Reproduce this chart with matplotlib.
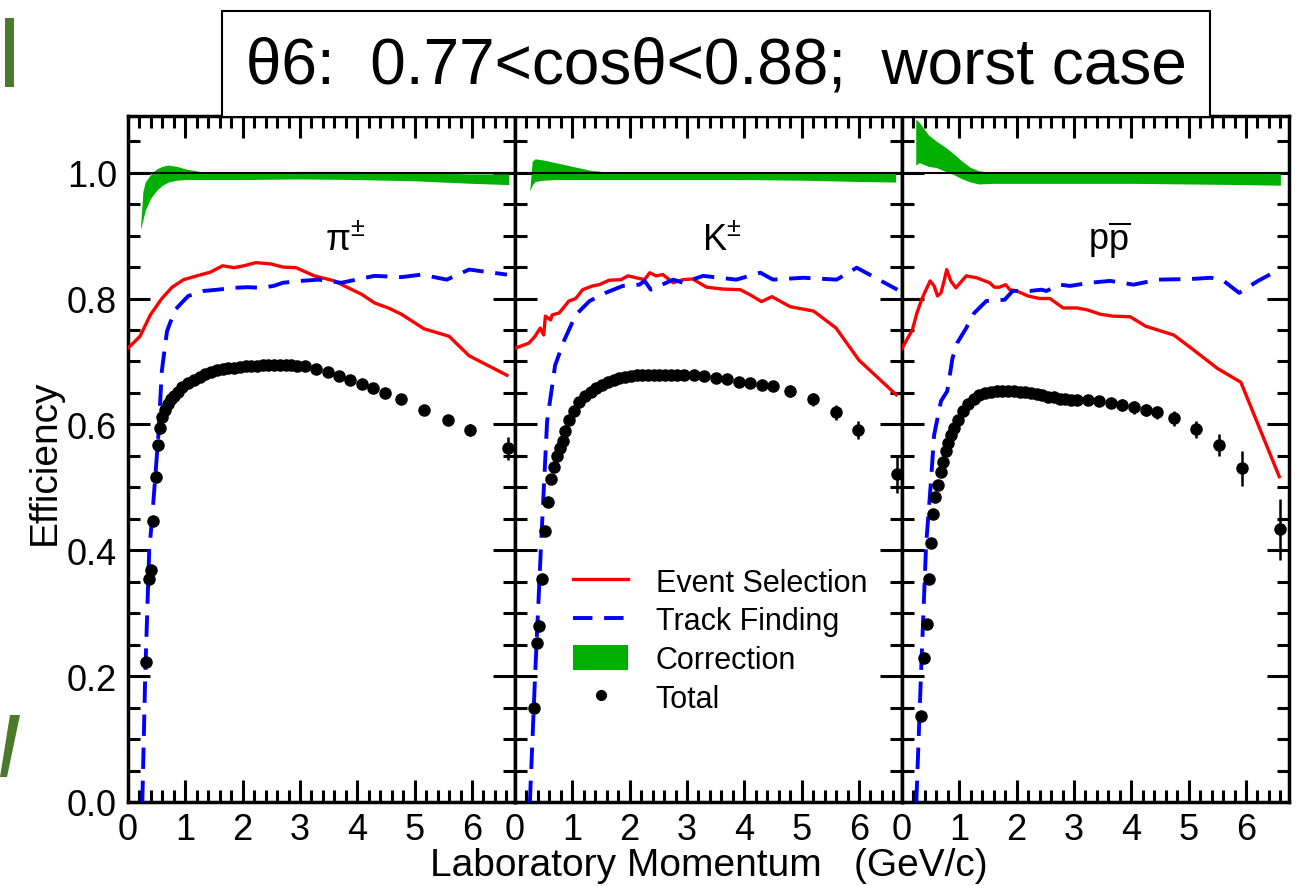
import matplotlib
matplotlib.use("Agg")
import matplotlib.pyplot as plt
from matplotlib.lines import Line2D
from matplotlib.patches import Patch, Rectangle, Polygon
from matplotlib.ticker import MultipleLocator

plt.rcParams['font.family'] = ['Liberation Sans', 'DejaVu Sans']
plt.rcParams['mathtext.fontset'] = 'custom'
plt.rcParams['mathtext.rm'] = 'Liberation Sans'
plt.rcParams['mathtext.it'] = 'Liberation Sans:italic'

# ---- data: pi
pi_sel_x = [0.0, 0.21, 0.39, 0.59, 0.77, 0.97, 1.2, 1.44, 1.65, 1.85, 2.02, 2.23, 2.49, 2.7, 2.93,
            3.25, 3.6, 3.84, 4.07, 4.3, 4.54, 4.77, 5.16, 5.6, 5.95, 6.61]
pi_sel_y = [0.721, 0.740, 0.774, 0.800, 0.818, 0.830, 0.836, 0.842, 0.852, 0.849, 0.852, 0.857, 0.855,
            0.850, 0.849, 0.836, 0.828, 0.817, 0.807, 0.793, 0.785, 0.775, 0.752, 0.740, 0.709, 0.678]
pi_trk_x = [0.25, 0.30, 0.37, 0.42, 0.47, 0.53, 0.59, 0.68, 0.82, 1.05, 1.32, 1.56, 1.85, 2.09, 2.32,
            2.54, 2.7, 3.02, 3.32, 3.72, 4.3, 4.77, 5.12, 5.56, 5.95, 6.61]
pi_trk_y = [0.0, 0.20, 0.40, 0.45, 0.51, 0.583, 0.685, 0.748, 0.782, 0.804, 0.812, 0.814, 0.817, 0.818,
            0.817, 0.820, 0.825, 0.828, 0.830, 0.825, 0.836, 0.834, 0.838, 0.830, 0.846, 0.838]
pi_cor_x = [0.22, 0.26, 0.30, 0.40, 0.50, 0.60, 0.70, 0.85, 1.0, 1.3, 1.6, 2.0, 3.0, 4.0, 5.0, 5.5, 6.0, 6.64]
pi_cor_hi = [0.915, 0.97, 0.985, 0.998, 1.006, 1.010, 1.012, 1.010, 1.006, 1.001, 1.000, 1.000, 1.002,
             1.002, 1.000, 0.999, 0.998, 0.998]
pi_cor_lo = [0.910, 0.925, 0.940, 0.960, 0.972, 0.980, 0.985, 0.988, 0.989, 0.989, 0.989, 0.989, 0.990,
             0.989, 0.987, 0.985, 0.983, 0.981]
pi_tot_x = [0.32, 0.36, 0.40, 0.44, 0.48, 0.52, 0.56, 0.60, 0.65, 0.70, 0.75, 0.80, 0.87, 0.95, 1.05,
            1.15, 1.25, 1.35, 1.45, 1.55, 1.65, 1.75, 1.85, 1.95, 2.05, 2.15, 2.25, 2.35, 2.45, 2.55,
            2.65, 2.75, 2.85, 2.95, 3.09, 3.28, 3.49, 3.68, 3.88, 4.09, 4.28, 4.48, 4.77, 5.16, 5.58,
            5.97, 6.63]
pi_tot_y = [0.222, 0.354, 0.368, 0.446, 0.516, 0.568, 0.595, 0.611, 0.623, 0.632, 0.640, 0.645, 0.651,
            0.659, 0.665, 0.670, 0.676, 0.680, 0.684, 0.686, 0.688, 0.689, 0.690, 0.691, 0.692, 0.693,
            0.693, 0.694, 0.694, 0.694, 0.694, 0.694, 0.694, 0.693, 0.692, 0.688, 0.683, 0.677, 0.670,
            0.664, 0.658, 0.650, 0.640, 0.623, 0.607, 0.591, 0.562]
pi_tot_e = [0.003] * 41 + [0.004, 0.005, 0.006, 0.008, 0.010, 0.018]

# ---- data: K
k_sel_x = [0.0, 0.24, 0.35, 0.44, 0.5, 0.53, 0.62, 0.65, 0.77, 0.94, 1.06, 1.18, 1.35, 1.47, 1.64, 1.85,
           1.97, 2.11, 2.26, 2.35, 2.46, 2.58, 2.76, 2.93, 3.1, 3.34, 3.63, 3.93, 4.1, 4.3, 4.48, 4.8,
           5.21, 5.6, 6.0, 6.65]
k_sel_y = [0.721, 0.729, 0.740, 0.753, 0.742, 0.772, 0.766, 0.774, 0.777, 0.796, 0.800, 0.814, 0.820,
           0.822, 0.829, 0.830, 0.836, 0.833, 0.830, 0.841, 0.836, 0.838, 0.825, 0.830, 0.831, 0.818,
           0.815, 0.814, 0.806, 0.795, 0.803, 0.787, 0.780, 0.753, 0.702, 0.647]
k_trk_x = [0.26, 0.35, 0.45, 0.56, 0.70, 0.86, 1.06, 1.30, 1.58, 1.88, 2.17, 2.26, 2.37, 2.76, 2.93,
           3.28, 3.86, 4.28, 4.5, 5.03, 5.61, 5.96, 6.67]
k_trk_y = [0.0, 0.20, 0.40, 0.605, 0.694, 0.734, 0.774, 0.796, 0.809, 0.820, 0.822, 0.828, 0.814, 0.830,
           0.825, 0.836, 0.830, 0.841, 0.830, 0.833, 0.830, 0.849, 0.814]
k_cor_x = [0.26, 0.30, 0.35, 0.5, 0.7, 1.0, 1.3, 1.6, 2.0, 3.0, 4.0, 5.0, 6.0, 6.64]
k_cor_hi = [0.975, 1.018, 1.022, 1.020, 1.016, 1.010, 1.004, 1.001, 1.0, 1.0, 1.001, 1.0, 0.999, 0.999]
k_cor_lo = [0.971, 0.980, 0.986, 0.988, 0.989, 0.989, 0.989, 0.989, 0.989, 0.989, 0.989, 0.988, 0.986, 0.985]
k_tot_x = [0.33, 0.38, 0.42, 0.47, 0.53, 0.58, 0.63, 0.68, 0.73, 0.78, 0.83, 0.88, 0.95, 1.03, 1.12,
           1.22, 1.32, 1.42, 1.52, 1.62, 1.72, 1.82, 1.92, 2.02, 2.12, 2.22, 2.32, 2.42, 2.52, 2.62,
           2.72, 2.82, 2.95, 3.12, 3.30, 3.50, 3.70, 3.91, 4.10, 4.30, 4.50, 4.79, 5.19, 5.60, 5.98, 6.66]
k_tot_y = [0.150, 0.252, 0.280, 0.354, 0.430, 0.476, 0.513, 0.532, 0.549, 0.562, 0.573, 0.589, 0.607,
           0.621, 0.635, 0.645, 0.652, 0.658, 0.663, 0.667, 0.671, 0.674, 0.676, 0.677, 0.678, 0.678,
           0.679, 0.679, 0.679, 0.679, 0.679, 0.679, 0.679, 0.678, 0.677, 0.674, 0.672, 0.668, 0.666,
           0.663, 0.661, 0.653, 0.640, 0.619, 0.591, 0.521]
k_tot_e = [0.003] * 34 + [0.005, 0.005, 0.006, 0.006, 0.007, 0.007, 0.008, 0.010, 0.010, 0.012, 0.015, 0.030]

# ---- data: p pbar
p_sel_x = [0.0, 0.18, 0.26, 0.35, 0.49, 0.56, 0.62, 0.68, 0.74, 0.78, 0.85, 0.94, 1.12, 1.3, 1.53, 1.61,
           1.7, 1.81, 1.88, 2.0, 2.2, 2.4, 2.58, 2.81, 3.05, 3.23, 3.46, 3.68, 3.98, 4.25, 4.46, 4.74,
           5.09, 5.5, 5.91, 6.58]
p_sel_y = [0.721, 0.750, 0.777, 0.800, 0.828, 0.820, 0.804, 0.809, 0.830, 0.846, 0.828, 0.817, 0.836,
           0.833, 0.825, 0.818, 0.818, 0.822, 0.814, 0.812, 0.804, 0.800, 0.800, 0.785, 0.785, 0.782,
           0.775, 0.772, 0.771, 0.756, 0.750, 0.742, 0.718, 0.689, 0.667, 0.517]
p_trk_x = [0.25, 0.33, 0.42, 0.50, 0.56, 0.68, 0.79, 0.88, 0.96, 1.12, 1.26, 1.47, 1.79, 1.93, 2.23,
           2.43, 2.52, 2.75, 2.93, 3.28, 3.63, 4.04, 4.46, 5.04, 5.39, 5.61, 5.88, 6.21, 6.58]
p_trk_y = [0.0, 0.20, 0.408, 0.503, 0.583, 0.637, 0.653, 0.705, 0.729, 0.753, 0.777, 0.796, 0.798, 0.812,
           0.812, 0.814, 0.812, 0.822, 0.820, 0.825, 0.828, 0.822, 0.830, 0.831, 0.833, 0.828, 0.809,
           0.828, 0.846]
p_cor_x = [0.24, 0.30, 0.46, 0.60, 0.76, 0.90, 1.05, 1.20, 1.34, 1.6, 2.0, 3.0, 4.0, 5.0, 6.0, 6.6]
p_cor_hi = [1.085, 1.08, 1.06, 1.05, 1.04, 1.03, 1.018, 1.008, 1.003, 1.0, 1.0, 1.0, 1.0, 1.0, 1.0, 0.999]
p_cor_lo = [1.012, 1.016, 1.010, 1.008, 1.002, 0.997, 0.990, 0.985, 0.982, 0.983, 0.983, 0.983, 0.983,
            0.982, 0.981, 0.980]
p_tot_x = [0.33, 0.38, 0.43, 0.47, 0.50, 0.54, 0.58, 0.63, 0.68, 0.72, 0.77, 0.81, 0.86, 0.91, 0.98,
           1.06, 1.15, 1.25, 1.35, 1.45, 1.55, 1.65, 1.75, 1.85, 1.95, 2.05, 2.15, 2.25, 2.35, 2.45,
           2.55, 2.65, 2.75, 2.85, 2.95, 3.05, 3.25, 3.44, 3.64, 3.84, 4.05, 4.25, 4.44, 4.74, 5.12,
           5.53, 5.93, 6.60]
p_tot_y = [0.137, 0.229, 0.283, 0.354, 0.412, 0.457, 0.485, 0.503, 0.525, 0.541, 0.557, 0.570, 0.583,
           0.594, 0.607, 0.621, 0.633, 0.641, 0.646, 0.650, 0.652, 0.653, 0.653, 0.653, 0.653, 0.652,
           0.651, 0.650, 0.648, 0.646, 0.644, 0.643, 0.641, 0.640, 0.639, 0.639, 0.638, 0.637, 0.634,
           0.631, 0.627, 0.623, 0.619, 0.610, 0.592, 0.567, 0.530, 0.433]
p_tot_e = [0.003] * 35 + [0.006, 0.007, 0.008, 0.008, 0.009, 0.010, 0.010, 0.011, 0.012, 0.013, 0.017,
                          0.028, 0.048]

panels = [
    ("π$^{\\pm}$", pi_sel_x, pi_sel_y, pi_trk_x, pi_trk_y, pi_cor_x, pi_cor_lo, pi_cor_hi,
     pi_tot_x, pi_tot_y, pi_tot_e),
    ("K$^{\\pm}$", k_sel_x, k_sel_y, k_trk_x, k_trk_y, k_cor_x, k_cor_lo, k_cor_hi,
     k_tot_x, k_tot_y, k_tot_e),
    ("p$\\overline{\\mathrm{p}}$", p_sel_x, p_sel_y, p_trk_x, p_trk_y, p_cor_x, p_cor_lo, p_cor_hi,
     p_tot_x, p_tot_y, p_tot_e),
]

W, H = 1301, 887
fig = plt.figure(figsize=(W / 100, H / 100), dpi=100)

left, right, top, bottom = 128, 1289, 117, 803
pw = (right - left) / 3
axes = []
for i, (lab, sx, sy, tx, ty, cx, clo, chi, ox, oy, oe) in enumerate(panels):
    ax = fig.add_axes([(left + i * pw) / W, 1 - bottom / H, pw / W, (bottom - top) / H])
    axes.append(ax)
    ax.fill_between(cx, clo, chi, color='#00b000', lw=0, zorder=2)
    ax.axhline(1.0, color='black', lw=1.5, zorder=3)
    ax.plot(sx, sy, color='#ff0000', lw=2.4, zorder=4)
    ax.plot(tx, ty, color='#0000ff', lw=2.8, dashes=(5.5, 3), zorder=4)
    ax.errorbar(ox, oy, yerr=oe, fmt='o', color='black', ms=8, elinewidth=1.8,
                capsize=0, zorder=5)
    ax.set_xlim(0, 6.75)
    ax.set_ylim(0, 1.09)
    ax.xaxis.set_major_locator(MultipleLocator(1))
    ax.xaxis.set_minor_locator(MultipleLocator(0.2))
    ax.yaxis.set_major_locator(MultipleLocator(0.2))
    ax.yaxis.set_minor_locator(MultipleLocator(0.05))
    ax.set_xticks(range(7))
    ax.set_xticklabels([str(v) for v in range(7)])
    ax.tick_params(which='both', direction='in', top=True, right=True, width=2.2)
    ax.tick_params(which='major', length=16, labelsize=26)
    ax.tick_params(which='minor', length=8.5)
    ax.tick_params(axis='x', pad=7)
    ax.tick_params(axis='y', pad=8)
    for s in ax.spines.values():
        s.set_linewidth(2.5)
    if i == 0:
        ax.yaxis.set_major_formatter(matplotlib.ticker.FormatStrFormatter('%.1f'))
    else:
        ax.tick_params(axis='y', labelleft=False)
    ax.text(0.56 if i == 0 else 0.535, 0.82, lab, transform=ax.transAxes, fontsize=26,
            ha='center', va='center')

handles = [Line2D([], [], color='#ff0000', lw=2.4),
           Line2D([], [], color='#0000ff', lw=2.8, dashes=(5, 3)),
           Patch(facecolor='#00b000', edgecolor='none'),
           Line2D([], [], ls='none', marker='o', color='black', ms=7)]
axes[1].legend(handles, ["Event Selection", "Track Finding", "Correction", "Total"],
               loc='upper left', bbox_to_anchor=(0.15, 0.342), frameon=False, fontsize=22,
               handlelength=1.8, handletextpad=0.9, labelspacing=0.28, borderpad=0,
               borderaxespad=0, handleheight=0.9)

fig.text(45 / W, 1 - 462 / H, "Efficiency", rotation=90, fontsize=28, ha='center', va='center')
fig.text(709 / W, 1 - 866 / H, "Laboratory Momentum   (GeV/c)", fontsize=28,
         ha='center', va='center')

# title box over top of panels
fig.add_artist(Rectangle((222 / W, 1 - 118 / H), (1210 - 222) / W, (118 - 12) / H,
                         transform=fig.transFigure, facecolor='white', edgecolor='black',
                         lw=1.5, zorder=10))
fig.text(716 / W, 1 - 66 / H, "θ6:  0.77<cosθ<0.88;  worst case", fontsize=46,
         ha='center', va='center', zorder=11)

# slide decorations
fig.add_artist(Rectangle((5 / W, 1 - 88 / H), 9 / W, 69 / H, transform=fig.transFigure,
                         facecolor='#4a7a2a', edgecolor='none'))
fig.add_artist(Polygon([(10 / W, 1 - 716 / H), (20 / W, 1 - 716 / H), (7 / W, 1 - 778 / H),
                        (0, 1 - 778 / H)], closed=True, transform=fig.transFigure,
                       facecolor='#4a7a2a', edgecolor='none'))

fig.savefig("out.png", dpi=100)
